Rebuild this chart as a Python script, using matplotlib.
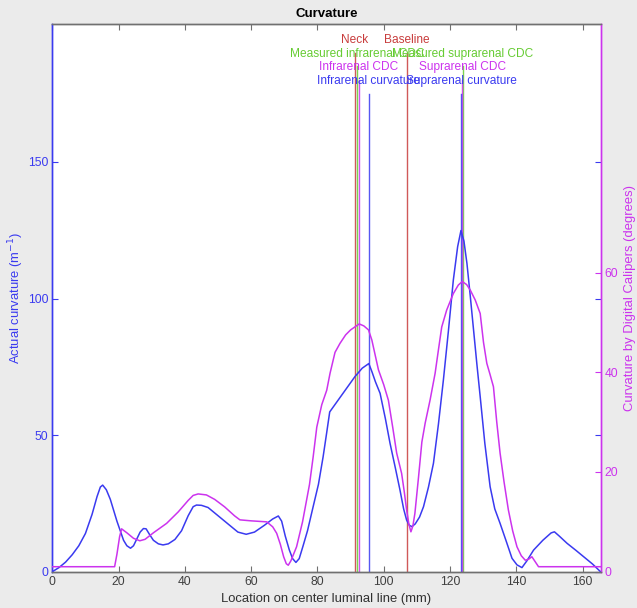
import matplotlib
matplotlib.use("Agg")
import matplotlib.pyplot as plt

plt.rcParams['font.family'] = ['Liberation Sans', 'DejaVu Sans']

# ---- data ----
# Actual curvature (m^-1) along centre luminal line (mm)
blue_x = [0, 2, 4, 6, 8, 10, 12, 13.5, 14.5, 15.2, 16.3, 17.5, 18.5, 19.5, 20.5, 21.5, 22.5,
          23.6, 24.5, 25.5, 26.5, 27.5, 28.3, 29.3, 30.5, 32, 33.4, 35, 37, 39, 41, 42.5,
          43.5, 45, 47, 50, 53, 56, 58.5, 61, 64, 66.5, 68.2, 69.2, 70.3, 71.5, 72.5, 73.5,
          74.5, 75.6, 77, 78.7, 80.3, 81.7, 82.8, 83.7, 91.3, 93.5, 95.5, 96.5, 97.5, 98.9,
          100.5, 101.9, 103.5, 104.9, 106, 106.9, 107.7, 108.5, 109.5, 110.8, 112, 113.5,
          115, 116.5, 118, 119.5, 121, 122.3, 123.3, 124.2, 125.1, 126.1, 127.1, 128.1,
          129.1, 130.5, 132.1, 133.5, 135.1, 137, 138.7, 140.2, 141.7, 143.2, 145.2, 148,
          150.5, 151.5, 153, 155.3, 158, 160.3, 163, 165.4]
blue_y = [0, 1.5, 3.5, 6.2, 9.5, 14, 21, 27.5, 31, 31.7, 30, 26.5, 22.5, 18.5, 15, 11.5, 9.5,
          8.6, 9.5, 12, 14.5, 15.8, 15.7, 13.7, 11.5, 10.2, 9.8, 10.2, 11.8, 15, 20.5, 23.8,
          24.4, 24.3, 23.5, 20.5, 17.5, 14.5, 13.7, 14.5, 17, 19.3, 20.4, 18.5, 13, 8, 4.8, 3.4,
          4.8, 9.2, 15, 23.8, 32, 42, 51, 58.5, 71.4, 74.5, 76.2, 73, 69.5, 65.3,
          56, 47, 38, 29.9, 23, 18.9, 17, 16.5, 17.5, 20, 23.8, 31,
          39.7, 54, 70.2, 88, 106.8, 119, 124.9, 121, 112.9, 101, 88.5, 76,
          64.1, 47, 31.1, 23, 17.7, 11, 4.9, 2.5, 1.5, 4, 7.9, 11.5,
          14.2, 14.6, 13, 10.4, 7.8, 5.5, 2.8, 0]

# Curvature by digital calipers (degrees)
mag_x = [0, 18.8, 19.5, 20.3, 20.9, 22.5, 24.5, 26.4, 28, 30.5, 34.5, 38, 41, 42.5, 44, 46.5,
         49, 52, 55, 56.6, 60, 64.7, 66.5, 67.7, 68.8, 69.8, 70.6, 71.2, 72, 73.7, 75.5,
         77.6, 78.7, 79.8, 81.3, 82.8, 83.8, 85.3, 86.8, 88.5, 90, 91.3, 92.6, 94, 95.4,
         96.4, 97.4, 98.4, 100, 101.4, 102.7, 103.9, 105.4, 106.2, 106.9, 107.6, 108.2,
         108.8, 109.4, 110.5, 111.5, 112.5, 114, 115.5, 116.5, 117.5, 119, 121, 122.5,
         123.7, 125, 126.1, 127.6, 129.1, 130.1, 131.1, 132.1, 133.1, 134.1, 135.1, 136.3,
         137.6, 138.9, 140.2, 141.5, 142.7, 143.7, 144.7, 145.7, 146.7, 165.4]
mag_y = [1.0, 1.0, 3.5, 7, 8.6, 7.8, 6.7, 6.2, 6.5, 7.8, 9.7, 12, 14.3, 15.3, 15.6, 15.4,
         14.5, 13, 11.2, 10.4, 10.2, 10.0, 9, 7.7, 5.5, 3, 1.6, 1.3, 2.2, 5.0, 10,
         17.5, 23, 29, 33.5, 36.4, 39.8, 44, 45.8, 47.5, 48.5, 49.1, 49.7, 49.3, 48.5,
         46.5, 43.5, 40.5, 37.5, 34.4, 29, 23.8, 19.7, 16, 12.4, 9.5, 8.0,
         9.2, 11.7, 19, 26, 29.8, 34.5, 39.8, 44.5, 49.1, 52.5, 55.8, 57.5,
         58.2, 57.6, 56.5, 54.5, 51.8, 46, 41.8, 39.5, 37.1, 30, 23.8, 18,
         12.4, 8.2, 5.0, 3.2, 2.3, 2.5, 3.0, 2, 1.0, 1.0]

# marker lines: label, x position (mm), top (left-axis units), colour key
mark_labels = ["Neck", "Baseline",
               "Measured infrarenal CDC", "Measured suprarenal CDC",
               "Infrarenal CDC", "Suprarenal CDC",
               "Infrarenal curvature", "Suprarenal curvature"]
mark_x = [91.3, 106.9, 92.0, 123.8, 92.4, 123.7, 95.5, 123.3]
mark_top = [190, 190, 185, 185, 180, 180, 175, 175]
mark_kind = ["red", "red", "green", "green", "mag", "mag", "blue", "blue"]

left_ticks = [0, 50, 100, 150]
right_ticks = [0, 20, 40, 60]
x_ticks = [0, 20, 40, 60, 80, 100, 120, 140, 160]

# ---- style ----
BLUE = '#3a3af0'
MAG = '#cc33ee'
RED = '#c83c3c'
GREEN = '#66cc33'
GRAY = '#707070'
colors = {"red": RED, "green": GREEN, "mag": MAG, "blue": BLUE}

W, H = 637, 608
fig = plt.figure(figsize=(W / 100, H / 100), dpi=100, facecolor='#ebebeb')
l, r, t, b = 52.3, 600.5, 24.3, 571.7
ax = fig.add_axes([l / W, 1 - b / H, (r - l) / W, (b - t) / H])
ax.set_facecolor('white')
ax2 = ax.twinx()

ax.plot(blue_x, blue_y, color=BLUE, lw=1.1, zorder=3)
ax2.plot(mag_x, mag_y, color=MAG, lw=1.1, zorder=3)

for lab, x, top, k in zip(mark_labels, mark_x, mark_top, mark_kind):
    c = colors[k]
    ax.plot([x, x], [0, top], color=c, lw=1.0, alpha=0.85, zorder=2)
    ax.text(x, top + 4.7, lab, color=c, ha='center', va='center', fontsize=8.6, zorder=5)

ax.set_xlim(0, 165.4)
ax.set_ylim(0, 200.4)
ax2.set_ylim(0, 109.8)
ax.set_xticks(x_ticks)
ax.set_yticks(left_ticks)
ax2.set_yticks(right_ticks)

ax.tick_params(axis='x', direction='in', top=True, length=4, width=0.8, color=GRAY,
               labelsize=8.7, labelcolor='#404040', pad=3)
ax.tick_params(axis='y', direction='in', right=True, length=4, width=0.8, color=BLUE,
               labelsize=8.7, labelcolor=BLUE, pad=3)
ax2.tick_params(axis='y', direction='in', length=4, width=0.8, color=MAG,
                labelsize=8.7, labelcolor=MAG, pad=3)

for a in (ax, ax2):
    a.spines['left'].set_color(BLUE)
    a.spines['right'].set_color(MAG)
    a.spines['top'].set_color(GRAY)
    a.spines['bottom'].set_color(GRAY)
    for s in a.spines.values():
        s.set_linewidth(1.0)

ax.set_xlabel("Location on center luminal line (mm)", fontsize=9.4, color='#303030', labelpad=4)
ax.set_ylabel("Actual curvature (m$^{-1}$)", fontsize=9.4, color=BLUE, labelpad=1)
ax2.set_ylabel("Curvature by Digital Calipers (degrees)", fontsize=9.4, color=MAG, labelpad=4)
ax.set_title("Curvature", fontsize=9.5, fontweight='bold', pad=5)

fig.savefig("out.png", dpi=100, facecolor=fig.get_facecolor())
